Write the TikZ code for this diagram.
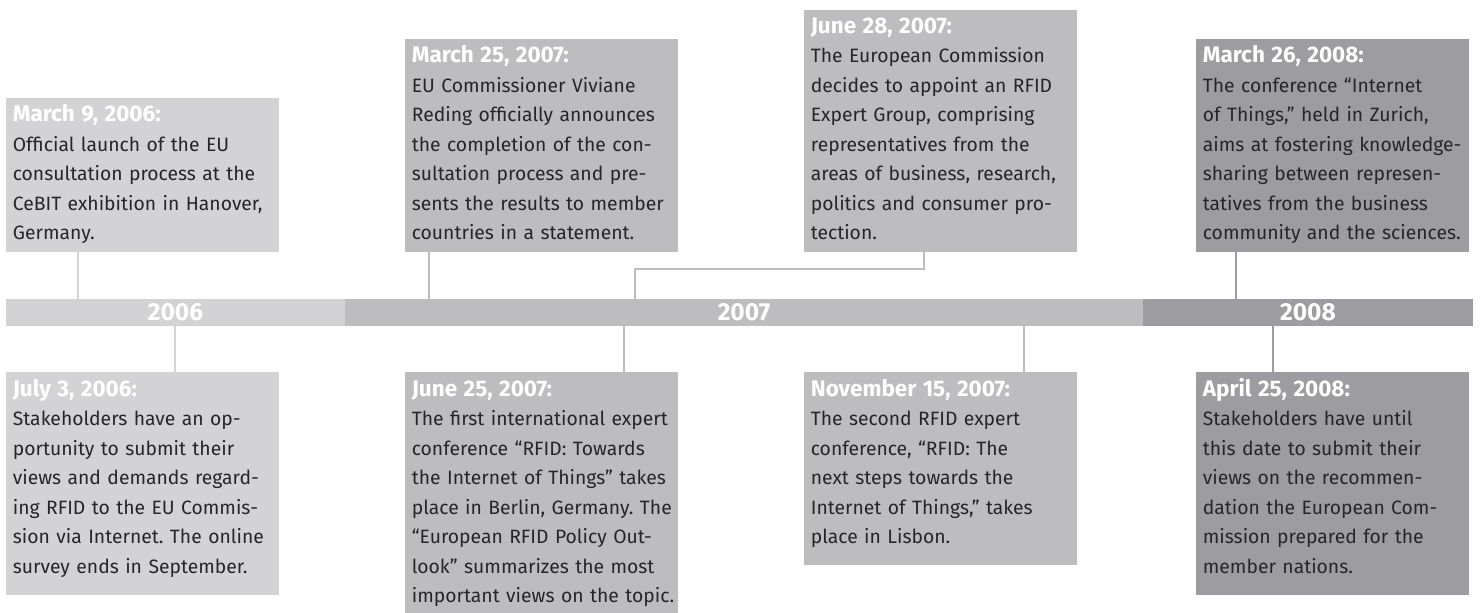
\documentclass[tikz,border=0pt]{standalone}
\usepackage{fontspec}
\setmainfont{Fira Sans}
\usetikzlibrary{positioning}

\definecolor{tl06}{HTML}{D3D3D5}
\definecolor{tl07}{HTML}{BDBDC0}
\definecolor{tl08}{HTML}{9D9DA1}
\definecolor{ink}{HTML}{262626}

% one pixel of the layout grid
\newlength{\tlpx}\setlength{\tlpx}{0.02cm}
% white date heading of an event box
\newcommand{\when}[1]{{\color{white}\fontsize{12.8}{16.8}\selectfont\bfseries\strut #1}\\}
% extra room under the boxes below the bar
\newcommand{\lowpad}{\rule[-10.5pt]{0pt}{0pt}}

\begin{document}
\frenchspacing
\begin{tikzpicture}[
    x=0.02cm, y=-0.02cm,
    event/.style={rectangle, text width=260\tlpx, inner xsep=6.5\tlpx, inner ysep=3\tlpx, align=left, text=ink, font=\fontsize{11}{16.8}\selectfont},
    upper/.style={event, anchor=south west},
    lower/.style={event, anchor=north west},
    year/.style={rectangle, minimum height=27\tlpx, inner sep=0pt, outer sep=0pt, text=white, font=\fontsize{14}{16}\selectfont\bfseries},
    link/.style={line width=1.5pt}
]
\useasboundingbox (0,0) rectangle (1480,612);

% the bar with the three years
\node (y06) [year, minimum width=339\tlpx, fill=tl06, anchor=north west] at (6,299) {2006};
\node (y07) [year, minimum width=798\tlpx, fill=tl07, right=0pt of y06] {2007};
\node (y08) [year, minimum width=330\tlpx, fill=tl08, right=0pt of y07] {2008};

% events above the bar
\node (mar06) [upper, fill=tl06] at (6,252) {\when{March 9, 2006:}
Official launch of the EU\\
consultation process at the\\
CeBIT exhibition in Hanover,\\
Germany.\strut};
\node (mar07) [upper, fill=tl07] at (405,252) {\when{March 25, 2007:}
EU Commissioner Viviane\\
Reding officially announces\\
the completion of the con-\\
sultation process and pre-\\
sents the results to member\\
countries in a statement.\strut};
\node (jun28) [upper, fill=tl07] at (804,252) {\when{June 28, 2007:}
The European Commission\\
decides to appoint an RFID\\
Expert Group, comprising\\
representatives from the\\
areas of business, research,\\
politics and consumer pro-\\
tection.\strut};
\node (mar08) [upper, fill=tl08] at (1196,252) {\when{March 26, 2008:}
The conference “Internet\\
of Things,” held in Zurich,\\
\mbox{aims at fostering knowledge-}\\
sharing between represen-\\
tatives from the business\\
\mbox{community and the sciences.}\strut};

% events below the bar
\node (jul06) [lower, fill=tl06] at (6,372) {\when{July 3, 2006:}
Stakeholders have an op-\\
portunity to submit their\\
views and demands regard-\\
ing RFID to the EU Commis-\\
sion via Internet. The online\\
survey ends in September.\strut\lowpad};
\node (jun25) [lower, fill=tl07] at (405,372) {\when{June 25, 2007:}
\mbox{The first international expert}\\
conference “RFID: Towards\\
the Internet of Things” takes\\
\mbox{place in Berlin, Germany. The}\\
“European RFID Policy Out-\\
look” summarizes the most\\
\mbox{important views on the topic.}\strut\lowpad};
\node (nov07) [lower, fill=tl07] at (804,372) {\when{November 15, 2007:}
The second RFID expert\\
conference, “RFID: The\\
next steps towards the\\
Internet of Things,” takes\\
place in Lisbon.\strut\lowpad};
\node (apr08) [lower, fill=tl08] at (1196,372) {\when{April 25, 2008:}
Stakeholders have until\\
this date to submit their\\
views on the recommen-\\
dation the European Com-\\
mission prepared for the\\
member nations.\strut\lowpad};

% where the ticks meet the bar
\coordinate (t1) at (78,0);
\coordinate (t2) at (175,0);
\coordinate (t3) at (429,0);
\coordinate (t4) at (924,0);
\coordinate (k4) at (635,269);
\coordinate (t5) at (624,0);
\coordinate (t6) at (1024,0);
\coordinate (t7) at (1236,0);
\coordinate (t8) at (1273,0);

\draw [link, tl06] (mar06.south -| t1) -- (y06.north -| t1);
\draw [link, tl06] (y06.south -| t2) -- (jul06.north -| t2);
\draw [link, tl07] (mar07.south -| t3) -- (y07.north -| t3);
\draw [link, tl07] (jun28.south -| t4) |- (k4) -- (y07.north -| k4);
\draw [link, tl07] (y07.south -| t5) -- (jun25.north -| t5);
\draw [link, tl07] (y07.south -| t6) -- (nov07.north -| t6);
\draw [link, tl08] (mar08.south -| t7) -- (y08.north -| t7);
\draw [link, tl08] (y08.south -| t8) -- (apr08.north -| t8);

\end{tikzpicture}
\end{document}
